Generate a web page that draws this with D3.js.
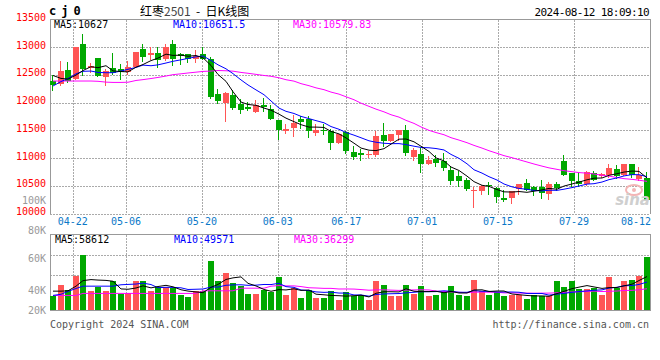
<!DOCTYPE html>
<html><head><meta charset="utf-8">
<script src="https://cdn.jsdelivr.net/npm/d3@7"></script>
<style>
html,body{margin:0;padding:0;background:#fff;}
svg{display:block;}
text{font-family:"DejaVu Sans Mono","Liberation Mono",monospace;font-size:10px;}
</style></head><body>
<svg id="c" width="660" height="360"></svg>
<script>
// ---------- data ----------
const dates = ["04-17","04-18","04-19","04-22","04-23","04-24","04-25","04-26","04-29","04-30",
"05-06","05-07","05-08","05-09","05-10","05-13","05-14","05-15","05-16","05-17",
"05-20","05-21","05-22","05-23","05-24","05-27","05-28","05-29","05-30","05-31",
"06-03","06-04","06-05","06-06","06-07","06-11","06-12","06-13","06-14","06-17",
"06-18","06-19","06-20","06-21","06-24","06-25","06-26","06-27","06-28","07-01",
"07-02","07-03","07-04","07-05","07-08","07-09","07-10","07-11","07-12","07-15",
"07-16","07-17","07-18","07-19","07-22","07-23","07-24","07-25","07-26","07-29",
"07-30","07-31","08-01","08-02","08-05","08-06","08-07","08-08","08-09","08-12"];
const open  = [12390,12335,12580,12425,13067,12617,12797,12461,12617,12610,
12545,12635,12959,12857,12887,12779,13049,12870,12869,12791,
12869,12791,12161,11993,12131,11969,11921,11831,11951,11880,
11681,11489,11543,11699,11711,11453,11513,11489,11273,11471,
11111,11099,11069,11063,11411,11303,11411,11501,11021,11081,
10901,10979,10949,10781,10673,10601,10403,10409,10523,10469,
10271,10283,10439,10559,10480,10481,10343,10541,10949,10739,
10589,10541,10739,10679,10691,10811,10703,10889,10631,10649];
const high  = [12500,12755,12725,13010,13247,12719,12800,12605,12887,12689,
12749,12917,13049,13007,12995,13055,13130,12890,12881,12953,
13001,12821,12239,12191,12221,12071,12011,12041,12089,11960,
11690,11609,11771,11759,11753,11609,11621,11531,11440,11480,
11219,11159,11129,11483,11639,11429,11501,11591,11183,11183,
11039,11063,11099,10859,10769,10643,10481,10523,10571,10481,
10421,10403,10541,10619,10500,10613,10571,10571,11051,10739,
10751,10763,10763,10733,10889,10871,10901,10901,10841,10751];
const low   = [12230,12315,12365,12420,12497,12557,12475,12317,12509,12425,
12509,12635,12755,12785,12641,12767,12671,12700,12731,12731,
12780,12083,11999,11669,11879,11813,11861,11831,11849,11700,
11351,11453,11399,11549,11381,11411,11429,11171,11273,11093,
10991,10973,11021,11039,11219,11303,11321,11051,10961,10751,
10901,10859,10781,10529,10499,10421,10121,10343,10349,10211,
10230,10181,10343,10421,10330,10271,10253,10421,10691,10493,
10493,10523,10601,10661,10661,10643,10691,10661,10613,10241];
const close = [12320,12570,12395,13007,12605,12665,12480,12575,12539,12545,
12635,12905,12815,12893,12767,12995,12791,12840,12791,12833,
12791,12101,12023,12173,11897,11861,11879,11951,11921,11710,
11501,11519,11633,11651,11489,11501,11489,11273,11429,11129,
11021,11051,11081,11393,11303,11429,11501,11093,11141,10901,
10961,10919,10823,10589,10589,10451,10421,10493,10493,10301,
10245,10403,10541,10421,10400,10361,10541,10469,10703,10589,
10529,10751,10613,10721,10829,10673,10901,10703,10691,10241];
const volume = [24200,44400,35700,58700,95000,32900,40300,32900,51300,28800,
30000,51300,51300,34000,40300,40300,38600,25900,22500,32900,
34000,84600,51300,65100,46700,42600,28800,28800,34600,31100,
57000,25900,38600,20800,34600,20800,20800,32900,18500,31100,
24200,25900,17300,50100,44400,24200,24200,44400,28800,41500,
24200,27100,31100,41500,27100,24200,53000,32900,27100,31100,
24200,27100,27100,20200,27100,24200,24200,50100,39800,50100,
37500,37500,38600,27100,57000,38600,51300,53000,58700,91500];
// moving-average values before the full window is available
const ma5Head  = [12490,12437,12425,12497];
const ma10Head = [12300,12380,12435,12520,12565,12570,12545,12540,12540];
const ma30Head = [12390,12390,12390,12390,12390,12390,12385,12370,12365,12365,
12368,12400,12415,12435,12455,12480,12505,12520,12535,12550,
12563,12570,12580,12575,12568,12545,12530,12510,12490];
const vma5Head  = [33400,33400,34000,42000];
const vma10Head = [26000,28000,33000,38000,42000,42000,42000,42000,42000];
const vma30Head = [26000,26000,26000,26000,29500,29500,29500,29500,29500,29500,
29500,29500,29500,29500,29500,29500,29500,29500,29500,29500,
34000,34000,34000,34000,34000,38500,38500,38500,38500];
const priceTicks = [10000,10500,11000,11500,12000,12500,13000,13500];
const volTicks = [20000,40000,60000,80000,100000];
const volTickLabels = ["20K","40K","60K","80K","100K"];
const volGrid = [95000,61600];
const dateTicks = ["04-22","05-06","05-20","06-03","06-17","07-01","07-15","07-29","08-12"];
const priceLegend = ["MA5:10627","MA10:10651.5","MA30:10579.83"];
const volLegend = ["MA5:58612","MA10:49571","MA30:36299"];
const symbol = "cj0";
const title = ["红枣","2501","\u00a0\u00a0-\u00a0\u00a0","日K线图"];
const stamp = "2024-08-12 18:09:10";
const footL = "Copyright 2024 SINA.COM";
const footR = "http://finance.sina.com.cn";

// ---------- helpers ----------
function ma(arr, n, head){
  return arr.map((_, i) => i < n - 1 ? head[i] : d3.mean(arr.slice(i - n + 1, i + 1)));
}
const UP = "#ff5555", DN = "#00a800", GRID = "#aaaaaa", BORDER = "#999999";
const maColors = ["#000000","#0000ff","#ff00ff"];

const svg = d3.select("#c");
const n = dates.length;
const x = d3.scaleBand().domain(d3.range(n)).range([50, 650]).paddingInner(0.2).paddingOuter(0);
const bw = 6;
const cx = i => Math.round(x(i)) + 3;
const gx = d3.scaleLinear().domain([0, n - 1]).range([50, 650]);
const y = d3.scaleLinear().domain([10000, 13500]).range([213.5, 19.5]);
const yv = d3.scaleLinear().domain([0, 131200]).range([310.5, 234.5]);
const yvLabel = d3.scaleLinear().domain(volTicks).range([310.7, 290.7, 258.3, 230.3, 200]);

// ---------- header ----------
svg.append("text").attr("x", 49).attr("y", 15).text(symbol)
  .style("font-size","12px").style("font-weight","bold").style("letter-spacing","5px").attr("fill","#000");
const tt = svg.append("text").attr("x", 140).attr("y", 16)
  .style("font-family",'"Noto Sans CJK SC","DejaVu Sans",sans-serif').style("font-size","12px");
tt.append("tspan").text(title[0]).attr("fill","#000");
tt.append("tspan").text(title[1]).attr("fill","#444");
tt.append("tspan").text(title[2]).attr("fill","#000");
tt.append("tspan").text(title[3]).attr("fill","#000");
svg.append("text").attr("x", 649).attr("y", 16).attr("text-anchor","end").text(stamp)
  .style("font-size","11px").style("letter-spacing","-0.6px").attr("fill","#000");

// ---------- main panel grid ----------
const g = svg.append("g").attr("shape-rendering","crispEdges");
g.selectAll(".hg").data(priceTicks.filter(v => v < 13500)).join("line")
  .attr("x1", 50).attr("x2", 650).attr("y1", d => Math.round(y(d)) + 0.5).attr("y2", d => Math.round(y(d)) + 0.5)
  .attr("stroke", GRID).attr("stroke-dasharray","2,1");
const tickIdx = dateTicks.map(d => dates.indexOf(d));
g.selectAll(".vg").data(tickIdx).join("line")
  .attr("x1", d => Math.round(gx(d)) + 0.5).attr("x2", d => Math.round(gx(d)) + 0.5)
  .attr("y1", 19.5).attr("y2", 213.5).attr("stroke", GRID).attr("stroke-dasharray","2,1");
g.selectAll(".vg2").data(tickIdx).join("line")
  .attr("x1", d => Math.round(gx(d)) + 0.5).attr("x2", d => Math.round(gx(d)) + 0.5)
  .attr("y1", 234.5).attr("y2", 310.5).attr("stroke", GRID).attr("stroke-dasharray","2,1");
g.selectAll(".vh").data(volGrid).join("line")
  .attr("x1", 50).attr("x2", 650).attr("y1", d => Math.round(yv(d)) + 0.5).attr("y2", d => Math.round(yv(d)) + 0.5)
  .attr("stroke", GRID).attr("stroke-dasharray","2,1");
// borders
g.append("path").attr("d", `M50.5,213.5V19.5H650.5V213.5`).attr("fill","none").attr("stroke", BORDER);
g.append("rect").attr("x",50.5).attr("y",234.5).attr("width",600).attr("height",76).attr("fill","none").attr("stroke",BORDER);

// ---------- axis labels ----------
svg.selectAll(".pl").data(priceTicks).join("text")
  .attr("x", 46).attr("y", d => y(d) - 2).attr("dy","0.35em").attr("text-anchor","end")
  .attr("fill","#ff0000").text(d => d);
svg.selectAll(".vl").data(volTicks).join("text")
  .attr("x", 46).attr("y", d => yvLabel(d)).attr("dy","0.35em").attr("text-anchor","end")
  .attr("fill","#999999").text((d, i) => volTickLabels[i]);
svg.selectAll(".dl").data(dateTicks).join("text")
  .attr("y", 221.7).attr("dy","0.35em").attr("text-anchor","middle").attr("fill","#0a78c8")
  .text(d => d)
  .each(function(d){
    const w = this.getComputedTextLength();
    let px = gx(dates.indexOf(d));
    if (px + w / 2 > 651) px = 651 - w / 2;
    d3.select(this).attr("x", px);
  });

// ---------- candles ----------
const cg = svg.append("g").attr("shape-rendering","crispEdges");
const idx = d3.range(n);
cg.selectAll(".wick").data(idx).join("line")
  .attr("x1", i => cx(i) - 0.5).attr("x2", i => cx(i) - 0.5)
  .attr("y1", i => Math.round(y(high[i]))).attr("y2", i => Math.round(y(low[i])) + 1)
  .attr("stroke", i => close[i] >= open[i] ? UP : DN);
cg.selectAll(".body").data(idx).join("rect")
  .attr("x", i => Math.round(x(i))).attr("width", bw)
  .attr("y", i => Math.round(y(Math.max(open[i], close[i]))))
  .attr("height", i => Math.max(1, Math.round(y(Math.min(open[i], close[i]))) - Math.round(y(Math.max(open[i], close[i])))))
  .attr("fill", i => close[i] >= open[i] ? UP : DN);

// ---------- MA lines ----------
const pm = [ma(close,5,ma5Head), ma(close,10,ma10Head), ma(close,30,ma30Head)];
const line = d3.line().x((d, i) => cx(i)).y(d => y(d));
[2,1,0].forEach(k => svg.append("path").attr("d", line(pm[k])).attr("fill","none")
  .attr("stroke", maColors[k]).attr("stroke-width",1));

// ---------- volume ----------
const vg = svg.append("g").attr("shape-rendering","crispEdges");
vg.selectAll(".vb").data(idx).join("rect")
  .attr("x", i => Math.round(x(i))).attr("width", bw)
  .attr("y", i => Math.round(yv(volume[i]))).attr("height", i => 310 - Math.round(yv(volume[i])))
  .attr("fill", i => close[i] >= open[i] ? UP : DN);
const vm = [ma(volume,5,vma5Head), ma(volume,10,vma10Head), ma(volume,30,vma30Head)];
const vline = d3.line().x((d, i) => cx(i)).y(d => yv(d));
[2,1,0].forEach(k => svg.append("path").attr("d", vline(vm[k])).attr("fill","none")
  .attr("stroke", maColors[k]).attr("stroke-width",1));

// ---------- legends ----------
const legX = [54, 173, 293];
svg.selectAll(".pleg").data(priceLegend).join("text")
  .attr("x", (d, i) => legX[i]).attr("y", 24).attr("dy","0.35em")
  .attr("fill", (d, i) => maColors[i]).text(d => d);
svg.selectAll(".vleg").data(volLegend).join("text")
  .attr("x", (d, i) => legX[i] + 1).attr("y", 239).attr("dy","0.35em")
  .attr("fill", (d, i) => maColors[i]).text(d => d);

// ---------- watermark ----------
svg.append("ellipse").attr("cx", 634).attr("cy", 190).attr("rx", 8).attr("ry", 5)
  .attr("fill","none").attr("stroke","#f3b5b5").attr("stroke-width",2);
svg.append("circle").attr("cx", 634).attr("cy", 190).attr("r", 2).attr("fill","#f3b5b5");
svg.append("text").attr("x", 650).attr("y", 205).attr("text-anchor","end").text("sina")
  .style("font-family","'DejaVu Sans',sans-serif").style("font-size","15px")
  .style("font-style","italic").style("font-weight","bold").attr("fill","#cfcfcf");

// ---------- footer ----------
svg.append("text").attr("x", 50).attr("y", 324).attr("dy","0.35em").attr("fill","#555").text(footL);
svg.append("text").attr("x", 649).attr("y", 324).attr("dy","0.35em").attr("text-anchor","end").attr("fill","#555").text(footR);
</script>
</body></html>
